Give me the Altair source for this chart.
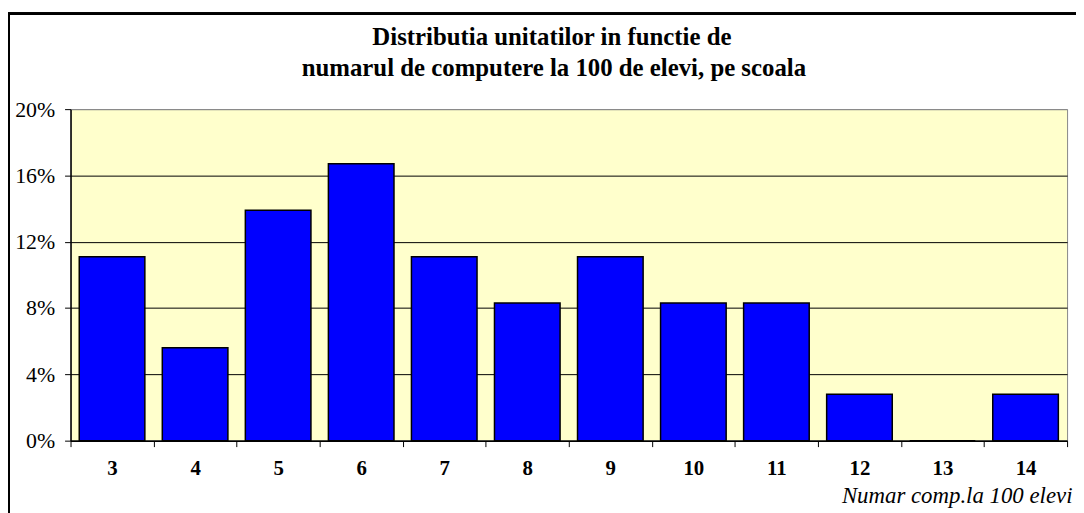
import altair as alt
import pandas as pd

categories = ["3", "4", "5", "6", "7", "8", "9", "10", "11", "12", "13", "14"]
shares = [0.111, 0.056, 0.139, 0.167, 0.111, 0.083, 0.111, 0.083, 0.083, 0.028, 0.0, 0.028]
y_ticks = [0, 0.04, 0.08, 0.12, 0.16, 0.20]
title_line1 = "Distributia unitatilor in functie de"
title_line2 = "numarul de computere la 100 de elevi, pe scoala"
x_title = "Numar comp.la 100 elevi"

df = pd.DataFrame({"cat": categories, "share": shares})
title_df = pd.DataFrame({"t": [title_line1]})
title_df2 = pd.DataFrame({"t": [title_line2]})

FONT = "Liberation Serif"

bars = alt.Chart(df).mark_bar(
    color="#0000FF", stroke="black", strokeWidth=1.5,
    width=alt.RelativeBandSize(0.79)
).encode(
    x=alt.X("cat:N", sort=categories,
            scale=alt.Scale(paddingInner=0, paddingOuter=0),
            axis=alt.Axis(title=x_title, labelAngle=0, tickBand="extent",
                          labelFont=FONT, labelFontSize=21, labelFontWeight="bold",
                          labelColor="black", labelPadding=11,
                          tickColor="black", tickSize=6, domainColor="black",
                          domainWidth=1.5,
                          titleFont=FONT, titleFontSize=23, titleFontStyle="italic",
                          titleFontWeight="normal", titleColor="black",
                          titleAlign="right", titleAnchor="end",
                          titleX=1009, titleY=62, titleBaseline="alphabetic")),
    y=alt.Y("share:Q",
            scale=alt.Scale(domain=[0, 0.2], nice=False),
            axis=alt.Axis(title=None, values=y_ticks, format=".0%",
                          labelFont=FONT, labelFontSize=22, labelColor="black",
                          labelPadding=10, tickColor="black", tickSize=6,
                          domainColor="black", domainWidth=1.5,
                          grid=True,
                          gridColor={"condition": {"test": "datum.value >= 0.2", "value": "#888888"},
                                     "value": "black"},
                          gridWidth=1)),
)

border = alt.Chart(df).mark_rect(
    filled=False, stroke="black", strokeWidth=2, clip=False
).encode(
    x=alt.value(-62), x2=alt.value(1030),
    y=alt.value(-96), y2=alt.value(420)
)

t1 = alt.Chart(title_df).mark_text(
    font=FONT, fontSize=25, fontWeight="bold", color="black",
    align="center", baseline="alphabetic", clip=False
).encode(text="t:N", x=alt.value(485), y=alt.value(-65))

t2 = alt.Chart(title_df2).mark_text(
    font=FONT, fontSize=25, fontWeight="bold", color="black",
    align="center", baseline="alphabetic", clip=False
).encode(text="t:N", x=alt.value(487), y=alt.value(-33))

chart = alt.layer(border, bars, t1, t2).properties(
    width=1004, height=334,
    padding={"left": 63, "top": 100, "right": 9, "bottom": 71},
    autosize=alt.AutoSizeParams(type="none"),
    background="white",
).configure_view(
    fill="#FFFFCC", stroke="#888888", strokeWidth=1
)

chart.save("out.html", embed_options={"renderer": "svg", "actions": False})
